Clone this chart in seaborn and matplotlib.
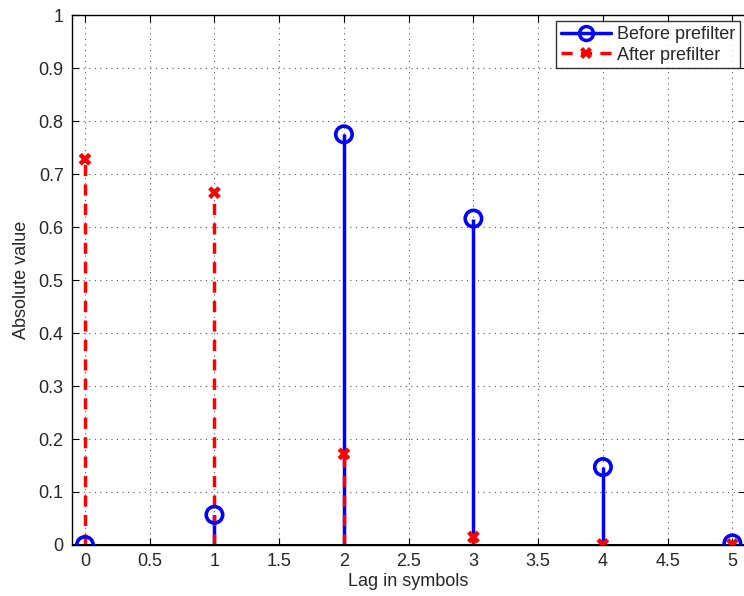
import matplotlib
matplotlib.use("Agg")
import matplotlib.pyplot as plt
import seaborn as sns
import numpy as np
import pandas as pd
from matplotlib.lines import Line2D

lags = [0, 1, 2, 3, 4, 5]
before = [0.0, 0.057, 0.775, 0.616, 0.147, 0.003]
after = [0.728, 0.665, 0.172, 0.015, 0.001, 0.001]
xticks = [0, 0.5, 1, 1.5, 2, 2.5, 3, 3.5, 4, 4.5, 5]
yticks = [0, 0.1, 0.2, 0.3, 0.4, 0.5, 0.6, 0.7, 0.8, 0.9, 1]

sns.set_style("ticks")
plt.rcParams['font.family'] = ['Liberation Sans', 'DejaVu Sans']

fig = plt.figure(figsize=(7.44, 5.96), dpi=100)
ax = fig.add_axes([0.0968, 0.0856, 0.905, 0.889])

df_b = pd.DataFrame({"lag": lags, "val": before})
df_a = pd.DataFrame({"lag": lags, "val": after})

# blue stems
ax.vlines(df_b["lag"], 0, df_b["val"], colors="#0000ff", linewidth=2.5, zorder=3)
# red stems
ax.vlines(df_a["lag"], 0, df_a["val"], colors="#ff0000", linewidth=2.5,
          linestyles=(0, (3.2, 2.4)), zorder=4)
# markers
sns.scatterplot(data=df_b, x="lag", y="val", ax=ax, marker="o", s=140,
                facecolor="none", edgecolor="#0000ff", linewidth=2.6, zorder=5)
sns.scatterplot(data=df_a, x="lag", y="val", ax=ax, marker="X", s=85,
                color="#ff0000", edgecolor="none", linewidth=0, zorder=6)

ax.axhline(0, color="black", linewidth=2.2, zorder=4.5)

ax.set_xlim(-0.1, 5.1)
ax.set_ylim(0, 1)
ax.set_xticks(xticks)
ax.set_xticklabels([f"{t:g}" for t in xticks])
ax.set_yticks(yticks)
ax.set_yticklabels([f"{t:g}" for t in yticks])
ax.grid(True, linestyle=(0, (1, 4)), color="#555555", linewidth=0.8)
ax.tick_params(direction="in", top=True, right=True, labelsize=13, length=5,
               color="black", pad=6)
for s in ax.spines.values():
    s.set_color("black")
    s.set_linewidth(1.0)

ax.set_xlabel("Lag in symbols", fontsize=13, labelpad=2)
ax.set_ylabel("Absolute value", fontsize=13, labelpad=6)

handles = [
    Line2D([0], [0], color="#0000ff", linewidth=2.5, marker="o", markersize=10,
           markerfacecolor="none", markeredgewidth=2.5, markeredgecolor="#0000ff"),
    Line2D([0], [0], color="#ff0000", linewidth=2.5, linestyle=(0, (3.2, 2.4)),
           marker="X", markersize=9, markeredgewidth=0, markerfacecolor="#ff0000"),
]
leg = ax.legend(handles, ["Before prefilter", "After prefilter"], loc="upper right",
                bbox_to_anchor=(0.9915, 0.988), fontsize=13, frameon=True, fancybox=False,
                handlelength=2.8, borderpad=0.25, labelspacing=0.2, handletextpad=0.3,
                borderaxespad=0)
leg.get_frame().set_edgecolor("black")
leg.get_frame().set_linewidth(1.0)

fig.savefig("out.png", dpi=100)
